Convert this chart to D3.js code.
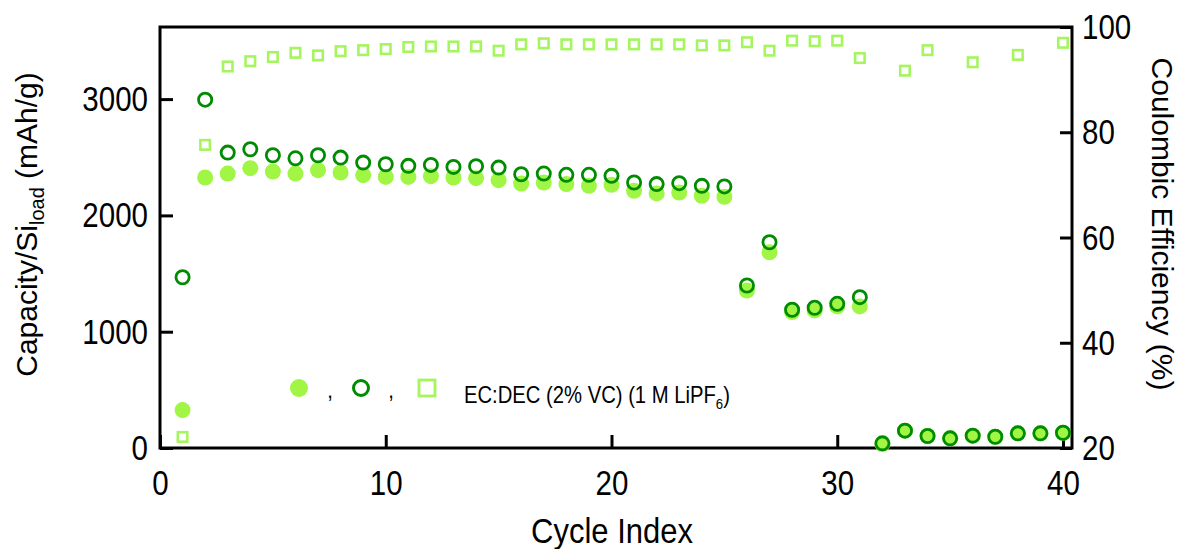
<!DOCTYPE html>
<html>
<head>
<meta charset="utf-8">
<script src="https://cdn.jsdelivr.net/npm/d3@7"></script>
<style>
  html, body { margin: 0; padding: 0; background: #fff; }
  svg { display: block; font-family: "Liberation Sans", Arial, sans-serif; }
</style>
</head>
<body>
<svg id="chart" width="1188" height="549"></svg>
<script>
// cycle number for every point
var cycles = d3.range(1, 41);

// discharge capacity (filled circles), mAh/g
var discharge = [326, 2326, 2360, 2406, 2377, 2360, 2389, 2369, 2346, 2331,
                 2331, 2337, 2326, 2320, 2303, 2274, 2283, 2269, 2254, 2263,
                 2211, 2189, 2197, 2169, 2160, 1354, 1683, 1169, 1183, 1217,
                 1217, 34, 149, 103, 83, 106, 97, 126, 126, 131];

// charge capacity (open circles), mAh/g
var charge = [1468, 2995, 2540, 2569, 2517, 2491, 2517, 2497, 2454, 2440,
              2426, 2434, 2417, 2423, 2411, 2354, 2360, 2349, 2349, 2340,
              2283, 2269, 2277, 2254, 2249, 1397, 1769, 1189, 1206, 1240,
              1297, 40, 149, 103, 83, 106, 97, 126, 126, 131];

// coulombic efficiency (open squares), %  -- null where no point is shown
var efficiency = [22.1, 77.6, 92.5, 93.5, 94.3, 95.1, 94.6, 95.4, 95.6, 95.8,
                  96.2, 96.3, 96.3, 96.3, 95.5, 96.7, 96.9, 96.7, 96.7, 96.7,
                  96.7, 96.7, 96.7, 96.5, 96.5, 97.1, 95.5, 97.4, 97.3, 97.4,
                  94.1, null, 91.7, 95.6, null, 93.3, null, 94.7, null, 97.0];

var xTicks = [0, 10, 20, 30, 40],
    yLeftTicks = [0, 1000, 2000, 3000],
    yRightTicks = [20, 40, 60, 80, 100];

var prefs = {
  fontFamily: '"Liberation Sans", Arial, sans-serif',
  fillColor: '#a0f545',
  openColor: '#008c00',
  squareColor: '#a4f55e',
  narrow: 0.82
};

var frame = { left: 160, right: 1072, top: 27, bottom: 448 };

var svg = d3.select('#chart');

var x = d3.scaleLinear().domain([0, 40]).range([160, 1063]);
var yL = d3.scaleLinear().domain([0, 3620]).range([448, 27]);
var yR = d3.scaleLinear().domain([20, 100]).range([448, 27]);

/* Axes with inward ticks, condensed labels */
function styleAxis(g, pad) {
  g.attr('font-family', prefs.fontFamily).attr('font-size', 36);
  g.select('.domain').remove();
  g.selectAll('.tick line').attr('stroke', '#000').attr('stroke-width', 3);
  g.selectAll('.tick text')
    .attr('fill', '#000')
    .attr('transform', 'scale(' + prefs.narrow + ',1)');
  if (pad !== undefined) {
    g.selectAll('.tick text').attr('x', pad / prefs.narrow);
  }
}

svg.append('g')
  .attr('transform', 'translate(0,' + frame.bottom + ')')
  .call(d3.axisBottom(x).tickValues(xTicks).tickFormat(d3.format('d'))
    .tickSizeInner(-13).tickSizeOuter(0).tickPadding(21))
  .call(function(g) { styleAxis(g); });

svg.append('g')
  .attr('transform', 'translate(' + frame.left + ',0)')
  .call(d3.axisLeft(yL).tickValues(yLeftTicks).tickFormat(d3.format('d'))
    .tickSizeInner(-13).tickSizeOuter(0))
  .call(function(g) { styleAxis(g, -12); });

svg.append('g')
  .attr('transform', 'translate(' + frame.right + ',0)')
  .call(d3.axisRight(yR).tickValues(yRightTicks).tickFormat(d3.format('d'))
    .tickSizeInner(-12).tickSizeOuter(0))
  .call(function(g) { styleAxis(g, 10); });

svg.append('rect')
  .attr('x', frame.left)
  .attr('y', frame.top)
  .attr('width', frame.right - frame.left)
  .attr('height', frame.bottom - frame.top)
  .attr('fill', 'none')
  .attr('stroke', '#000')
  .attr('stroke-width', 3);

/* Data */
var filledData = cycles.map(function(c, i) { return { c: c, v: discharge[i] }; });
var openData = cycles.map(function(c, i) { return { c: c, v: charge[i] }; });
var squareData = cycles.map(function(c, i) { return { c: c, v: efficiency[i] }; })
  .filter(function(d) { return d.v !== null; });

svg.append('g').selectAll('circle')
  .data(filledData)
  .enter().append('circle')
    .attr('cx', function(d) { return x(d.c); })
    .attr('cy', function(d) { return yL(d.v); })
    .attr('r', 8)
    .attr('fill', prefs.fillColor);

svg.append('g').selectAll('circle')
  .data(openData)
  .enter().append('circle')
    .attr('cx', function(d) { return x(d.c); })
    .attr('cy', function(d) { return yL(d.v); })
    .attr('r', 6.6)
    .attr('fill', 'none')
    .attr('stroke', prefs.openColor)
    .attr('stroke-width', 2.8);

var sq = 9.5;
svg.append('g').selectAll('rect')
  .data(squareData)
  .enter().append('rect')
    .attr('x', function(d) { return x(d.c) - sq / 2; })
    .attr('y', function(d) { return yR(d.v) - sq / 2; })
    .attr('width', sq)
    .attr('height', sq)
    .attr('fill', 'none')
    .attr('stroke', prefs.squareColor)
    .attr('stroke-width', 2.6);

/* Legend */
var legend = svg.append('g');
legend.append('circle').attr('cx', 299).attr('cy', 388).attr('r', 9).attr('fill', prefs.fillColor);
legend.append('circle').attr('cx', 361).attr('cy', 388).attr('r', 7.5)
  .attr('fill', 'none').attr('stroke', prefs.openColor).attr('stroke-width', 3);
legend.append('rect').attr('x', 419).attr('y', 380).attr('width', 16).attr('height', 16)
  .attr('fill', 'none').attr('stroke', prefs.squareColor).attr('stroke-width', 2.8);

[330, 391].forEach(function(cx) {
  legend.append('text')
    .attr('transform', 'translate(' + cx + ',398) scale(0.88,1)')
    .attr('text-anchor', 'middle')
    .style('font-size', '23px')
    .text(',');
});

var legText = legend.append('text')
  .attr('transform', 'translate(464,403) scale(0.88,1)')
  .style('font-size', '23px');
legText.append('tspan').text('EC:DEC (2% VC) (1 M LiPF');
legText.append('tspan').attr('dy', 6).style('font-size', '15px').text('6');
legText.append('tspan').attr('dy', -6).text(')');

/* Axis titles */
svg.append('text')
  .attr('transform', 'translate(612,543) scale(0.886,1)')
  .attr('text-anchor', 'middle')
  .style('font-size', '35px')
  .text('Cycle Index');

var yTitle = svg.append('text')
  .attr('transform', 'translate(37,224.5) rotate(-90)')
  .attr('text-anchor', 'middle')
  .style('font-size', '30px');
yTitle.append('tspan').text('Capacity/Si');
yTitle.append('tspan').attr('dy', 7).style('font-size', '20px').text('load');
yTitle.append('tspan').attr('dy', -7).text(' (mAh/g)');

svg.append('text')
  .attr('transform', 'translate(1152,224) rotate(90)')
  .attr('text-anchor', 'middle')
  .style('font-size', '30px')
  .text('Coulombic Efficiency (%)');
</script>
</body>
</html>
